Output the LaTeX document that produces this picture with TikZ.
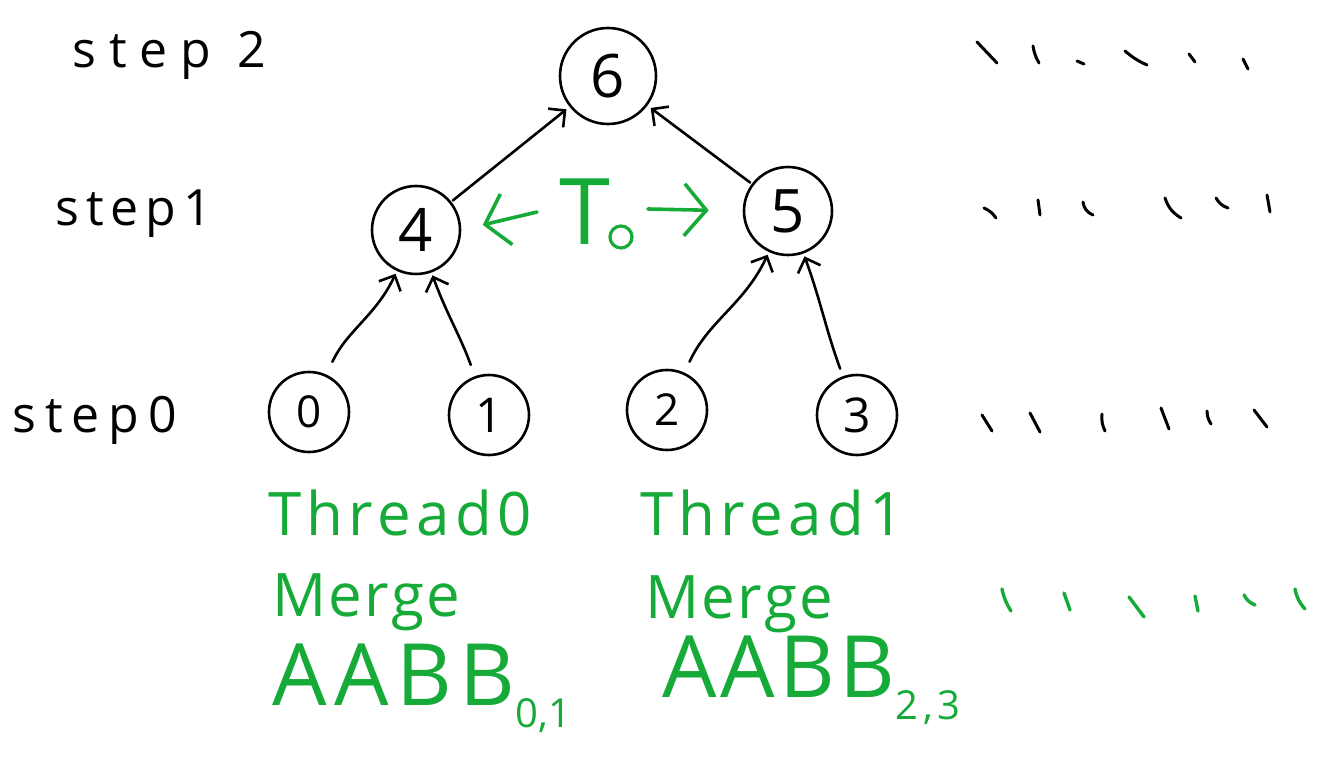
\documentclass[tikz,border=0pt]{standalone}
\usepackage{fontspec}
\setmainfont{Open Sans}
\usetikzlibrary{arrows.meta}
\definecolor{hgreen}{RGB}{22,170,56}
\tikzset{
  pen/.style={line width=2.6pt, line cap=round, line join=round},
  numnode/.style={circle, draw, pen, inner sep=0pt},
  arr/.style={pen, -{Straight Barb[length=12pt,width=24pt,line width=2.6pt]}},
  lbl/.style={anchor=west, inner sep=0pt},
  gtext/.style={text=hgreen, anchor=west, inner sep=0pt},
  garr/.style={pen, line width=3.6pt, hgreen, -{Straight Barb[length=22pt,width=52pt,line width=3.6pt]}},
  tick/.style={pen, line width=3pt},
  gtick/.style={pen, line width=3.4pt, hgreen},
}
\newcommand{\ls}[2]{\addfontfeature{LetterSpace=#1}#2}
\begin{document}
\begin{tikzpicture}[x=1pt,y=-1pt]
\useasboundingbox (0,0) rectangle (1325,775);
% nodes
\node[numnode, minimum width=96pt, minimum height=82pt, font=\fontsize{60}{62}\selectfont] (n6) at (608,76) {6};
\node[numnode, minimum size=88pt, font=\fontsize{60}{62}\selectfont] (n4) at (416,230) {4};
\node[numnode, minimum size=88pt, font=\fontsize{60}{62}\selectfont] (n5) at (788,211) {5};
\node[numnode, minimum size=80pt, font=\fontsize{44}{46}\selectfont] (n0) at (309,412) {0};
\node[numnode, minimum size=80pt, font=\fontsize{48}{50}\selectfont] (n1) at (489,415) {1};
\node[numnode, minimum size=80pt, font=\fontsize{44}{46}\selectfont] (n2) at (667,410) {2};
\node[numnode, minimum size=80pt, font=\fontsize{48}{50}\selectfont] (n3) at (857,415) {3};
% step labels
\node[lbl, font=\fontsize{50}{52}\selectfont] (s2) at (72,55) {\ls{26}{step 2}};
\node[lbl, font=\fontsize{50}{52}\selectfont] (s1) at (55,214) {\ls{14}{step1}};
\node[lbl, font=\fontsize{50}{52}\selectfont] (s0) at (12,420) {\ls{18}{step0}};
% edges
\draw[arr, shorten <=14pt, shorten >=3pt] (n0) to[out=65,in=245] (n4);
\draw[arr, shorten <=12pt, shorten >=3pt] (n1) to[out=110,in=290] (n4);
\draw[arr, shorten <=12pt, shorten >=3pt] (n2) to[out=65,in=245] (n5);
\draw[arr, shorten <=8pt, shorten >=3pt] (n3) to[out=110,in=290] (n5);
\draw[arr, shorten <=2pt, shorten >=4pt] (n4) -- (n6);
\draw[arr, shorten <=2pt, shorten >=4pt] (n5) -- (n6);
% T0 with arrows
\node[text=hgreen, font=\fontsize{92}{94}\selectfont, inner sep=0pt, anchor=center] (t0) at (585,212) {T};
\node[circle, draw=hgreen, line width=3.2pt, minimum size=22pt, inner sep=0pt] (t0sub) at (621,237) {};
\coordinate (la) at (537,212);
\coordinate (ra) at (648,209);
\draw[garr, shorten >=22pt] (la) -- (n4.east);
\draw[garr, shorten >=34pt] (ra) -- (n5.west);
% green texts
\node[gtext, font=\fontsize{60}{62}\selectfont] (th0) at (268,513) {\ls{9}{Thread0}};
\node[gtext, font=\fontsize{60}{62}\selectfont] (th1) at (640,513) {\ls{9}{Thread1}};
\node[gtext, font=\fontsize{60}{62}\selectfont] (m0) at (272,602) {\ls{4}{Merge}};
\node[gtext, font=\fontsize{60}{62}\selectfont] (m1) at (645,604) {\ls{4}{Merge}};
\node[gtext, font=\fontsize{86}{90}\selectfont] (a0) at (272,688) {\ls{9}{AABB}\raisebox{-22pt}{\fontsize{40}{42}\selectfont\ls{0}{0,1}}};
\node[gtext, font=\fontsize{86}{90}\selectfont] (a1) at (662,680) {\ls{5}{AABB}\raisebox{-22pt}{\fontsize{40}{42}\selectfont\ls{12}{2,3}}};
% right-hand ticks (step 2)
\draw[tick] (977,42) -- (997,63);
\draw[tick] (1033,46) to[bend right=10] (1039,63);
\draw[tick] (1077,61) -- (1084,64);
\draw[tick] (1125,51) to[bend right=8] (1147,65);
\draw[tick] (1189,54) -- (1195,62);
\draw[tick] (1243,59) -- (1248,69);
% step 1
\draw[tick] (984,208) to[bend left=15] (996,218);
\draw[tick] (1038,200) -- (1040,215);
\draw[tick] (1083,202) to[bend right=30] (1093,215);
\draw[tick] (1165,198) to[bend right=20] (1181,218);
\draw[tick] (1216,198) to[bend right=20] (1228,208);
\draw[tick] (1267,195) -- (1270,212);
% step 0
\draw[tick] (982,415) -- (992,431);
\draw[tick] (1030,413) -- (1040,432);
\draw[tick] (1102,414) to[bend right=15] (1105,431);
\draw[tick] (1161,408) -- (1169,429);
\draw[tick] (1207,411) to[bend right=15] (1211,424);
\draw[tick] (1254,410) -- (1267,427);
% green row
\draw[gtick] (1002,589) to[bend right=10] (1011,611);
\draw[gtick] (1064,593) -- (1070,610);
\draw[gtick] (1129,597) -- (1144,617);
\draw[gtick] (1195,596) -- (1198,611);
\draw[gtick] (1244,595) to[bend right=20] (1255,605);
\draw[gtick] (1295,589) to[bend right=15] (1305,609);
\end{tikzpicture}
\end{document}
